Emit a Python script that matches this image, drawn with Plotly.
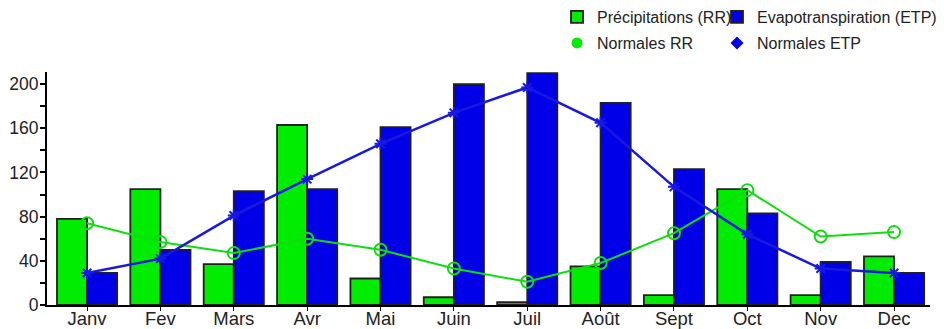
import plotly.graph_objects as go

months = ["Janv", "Fev", "Mars", "Avr", "Mai", "Juin", "Juil", "Août", "Sept", "Oct", "Nov", "Dec"]
rr = [78, 105, 37, 163, 24, 7, 2.5, 35, 9, 105, 9, 44]
etp = [29, 50, 103, 105, 161, 200, 210, 183, 123, 83, 39, 29]
normales_rr = [74, 57, 47, 60, 50, 33, 21, 38, 65, 104, 62, 66]
normales_etp = [29, 42, 81, 114, 146, 174, 197, 165, 107, 64, 33, 29]

GREEN = "#00ec00"
BLUE = "#0000e8"
FONT = "Liberation Sans, Arial, sans-serif"

# the page puts the figure 8px in from the top-left corner, so the figure is
# sized and placed to land where the original chart sits in the window
W, H = 936, 321

fig = go.Figure()

fig.add_trace(go.Bar(x=months, y=rr, name="Précipitations (RR)",
                     marker=dict(color=GREEN, line=dict(color="#202020", width=1.8)),
                     legend="legend"))
fig.add_trace(go.Bar(x=months, y=etp, name="Evapotranspiration (ETP)",
                     marker=dict(color=BLUE, line=dict(color="#202020", width=1.8)),
                     legend="legend2"))

# normal lines (legend entries drawn separately, marker only)
fig.add_trace(go.Scatter(x=months, y=normales_rr, mode="lines+markers", showlegend=False,
                         line=dict(color="#10dd10", width=2),
                         marker=dict(symbol="circle-open", size=12, color="#10dd10",
                                     line=dict(width=2))))
fig.add_trace(go.Scatter(x=months, y=normales_etp, mode="lines+markers", showlegend=False,
                         line=dict(color="#1818e0", width=2.5),
                         marker=dict(symbol="asterisk-open", size=10, color="#1818e0",
                                     line=dict(width=2, color="#1818e0"))))

fig.add_trace(go.Scatter(x=[None], y=[None], mode="markers", name="Normales RR",
                         marker=dict(symbol="circle", size=11, color=GREEN,
                                     line=dict(width=0)),
                         legend="legend3"))
fig.add_trace(go.Scatter(x=[None], y=[None], mode="markers", name="Normales ETP",
                         marker=dict(symbol="diamond", size=10, color=BLUE),
                         legend="legend4"))

legend_common = dict(orientation="h", xanchor="left", yanchor="middle",
                     xref="container", yref="container",
                     font=dict(family=FONT, size=16, color="#222"),
                     itemwidth=30, bgcolor="rgba(0,0,0,0)")

fig.update_layout(
    template="none",
    width=W, height=H,
    margin=dict(l=39, r=14, t=64, b=24, autoexpand=False),
    paper_bgcolor="white", plot_bgcolor="white",
    barmode="group", bargap=0.18, bargroupgap=0,
    font=dict(family=FONT, size=18, color="#222"),
    legend=dict(x=549 / W, y=1 - 9 / H, **legend_common),
    legend2=dict(x=709 / W, y=1 - 9 / H, **legend_common),
    legend3=dict(x=549 / W, y=1 - 35 / H, **legend_common),
    legend4=dict(x=709 / W, y=1 - 35 / H, **legend_common),
    xaxis=dict(range=[-0.546, 11.49], showline=True, linecolor="black", linewidth=2,
               ticks="outside", ticklen=4, tickcolor="black", showgrid=False,
               automargin=False, ticklabelstandoff=-8,
               tickfont=dict(size=18.5, color="#222")),
    yaxis=dict(range=[0, 211], showline=True, linecolor="black", linewidth=2,
               ticks="outside", ticklen=5, tickwidth=2, tickcolor="black",
               tickvals=[0, 40, 80, 120, 160, 200], showgrid=False, zeroline=False,
               automargin=False, ticklabelstandoff=-2,
               minor=dict(tickvals=[20, 60, 100, 140, 180], ticks="outside", ticklen=5,
                          tickwidth=2, tickcolor="black", showgrid=False),
               tickfont=dict(size=17.5, color="#222")),
    yaxis2=dict(range=[0, 211], overlaying="y", side="left", anchor="x",
                showline=False, ticks="inside", ticklen=5, tickwidth=2,
                tickcolor="black", showticklabels=False, showgrid=False, zeroline=False,
                tickvals=[0, 20, 40, 60, 80, 100, 120, 140, 160, 180, 200]),
)

fig.write_html("out.html")
